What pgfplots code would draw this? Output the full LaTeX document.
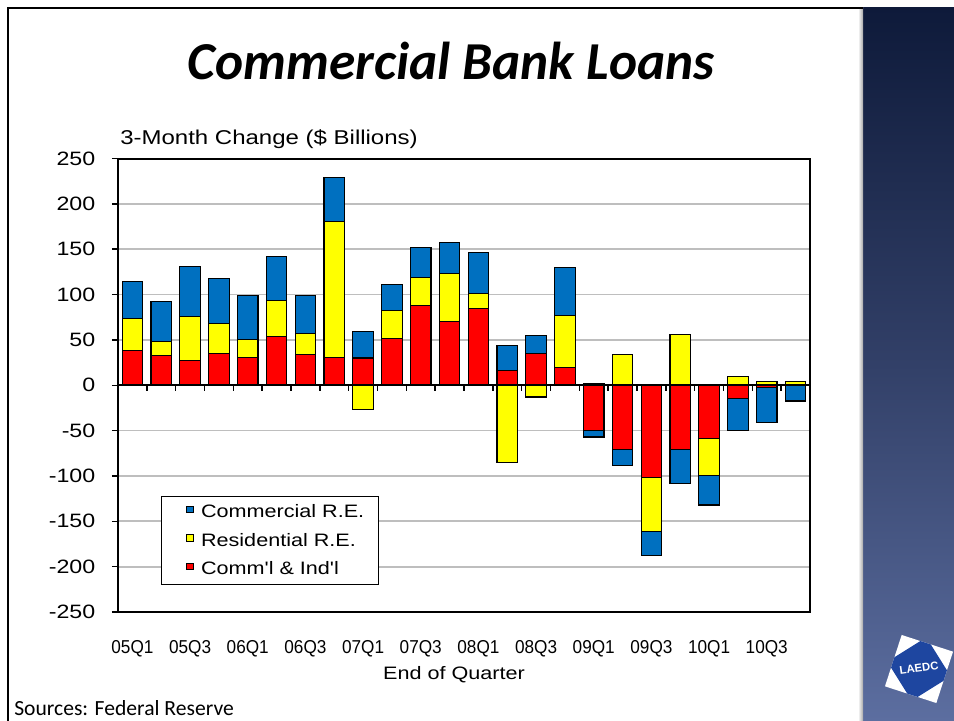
\documentclass[border=0pt]{standalone}
\usepackage{pgfplots}
\pgfplotsset{compat=1.18}
\usepackage{pgfplotstable}
\usepackage{fontspec}
\setmainfont{Liberation Sans}
\newfontfamily\chartfont[FakeStretch=1.2]{Liberation Sans}
\newfontfamily\xfont[FakeStretch=0.92]{Liberation Sans}
\newfontfamily\calfont{Carlito}
\definecolor{cre}{RGB}{0,112,192}
\definecolor{rre}{RGB}{255,255,0}
\definecolor{cni}{RGB}{255,0,0}
\definecolor{gridgray}{RGB}{190,190,190}
\definecolor{bandtop}{RGB}{14,26,58}
\definecolor{bandmid}{RGB}{50,64,104}
\definecolor{bandbot}{RGB}{92,110,160}
\definecolor{logoblue}{RGB}{30,70,160}

% positive parts (Comm'l & Ind'l, Residential R.E., Commercial R.E.)
\pgfplotstableread{
x red yel blu
0 38 36 40
1 33 15 44
2 27 49 55
3 35 33 50
4 31 19 49
5 54 39 49
6 34 23 42
7 31 150 48
8 30 0 29
9 52 30 29
10 88 31 33
11 70 53 34
12 85 16 45
13 16.5 0 27.5
14 35 0 20
15 20 57 53
16 0 2 0
17 0 34 0
18 0 0 0
19 0 56 0
20 0 0 0
21 0 10 0
22 0 4.4 0
23 0 4.4 0
}\postab
% negative parts
\pgfplotstableread{
x red yel blu
0 0 0 0
1 0 0 0
2 0 0 0
3 0 0 0
4 0 0 0
5 0 0 0
6 0 0 0
7 0 0 0
8 0 -27 0
9 0 0 0
10 0 0 0
11 0 0 0
12 0 0 0
13 0 -85 0
14 0 -13 0
15 0 0 0
16 -50 0 -7
17 -71 0 -17
18 -101.5 -59.5 -27
19 -71 0 -37
20 -58.5 -41 -32.5
21 -15 0 -34.7
22 -2.2 0 -38.8
23 0 0 -17.3
}\negtab

\pgfplotsset{
  common/.style={
    at={(88.5pt,81.75pt)}, anchor=south west,
    scale only axis, width=519pt, height=340.1pt,
    xmin=-0.5, xmax=23.5, ymin=-250, ymax=250,
    ybar stacked, bar width=0.715,
  },
  barstyle/.style={draw=black, line width=0.85pt},
}

\begin{document}
\begin{tikzpicture}[x=0.75pt,y=0.75pt]
\fill[white] (0,0) rectangle (954,721);
\path[use as bounding box] (0,0) rectangle (954,721);
% right band
\shade[top color=bandtop, bottom color=bandbot, middle color=bandmid] (863,0) rectangle (954,713);
\shade[left color=white, right color=black!35] (858,0) rectangle (863,713);
% frame
\draw[line width=1.5pt] (8,0) -- (8,713) -- (863,713);
% logo
\begin{scope}[shift={(919,52)}, rotate=-18]
  \fill[white] (-27,-27) rectangle (27,27);
  \begin{scope}
    \clip (-27,-27) rectangle (27,27);
    \fill[logoblue, rotate=50] (-23,-23) rectangle (23,23);
  \end{scope}
\end{scope}
\node[white, font=\bfseries\fontsize{8.5}{9}\selectfont, rotate=8, inner sep=0] at (919,53) {LAEDC};
% title
\node[anchor=base, font=\calfont\bfseries\itshape\fontsize{40}{48}\selectfont] at (451,641) {Commercial Bank Loans};
% y title
\node[anchor=base west, font=\chartfont\fontsize{15}{18}\selectfont, inner sep=0] at (120,576) {3-Month Change (\$ Billions)};
% x title
\node[anchor=base, font=\chartfont\fontsize{13.5}{16}\selectfont, inner sep=0] at (454,41) {End of Quarter};
% sources
\node[anchor=base west, font=\calfont\fontsize{16.2}{19}\selectfont, inner sep=0] at (14,5) {Sources: Federal Reserve};

\begin{axis}[common,
  axis line style={line width=1.5pt},
  xtick={0,2,...,22},
  xticklabels={05Q1,05Q3,06Q1,06Q3,07Q1,07Q3,08Q1,08Q3,09Q1,09Q3,10Q1,10Q3},
  x tick label style={font=\xfont\fontsize{14}{16}\selectfont, yshift=-13pt},
  xtick style={draw=none},
  ytick={-250,-200,...,250},
  yticklabels={-250,-200,-150,-100,-50,0,50,100,150,200,250},
  y tick label style={font=\chartfont\fontsize{14.5}{16}\selectfont, xshift=-9pt},
  ytick pos=left, tick align=outside, major tick length=4.5pt,
  ytick style={line width=1.1pt, black},
  ymajorgrids, grid style={gridgray, line width=1.3pt},
  reverse legend,
  legend style={at={(0.0621,0.2558)}, anchor=north west, draw=black, line width=1pt,
    fill=white, font=\chartfont\fontsize{13.5}{15}\selectfont,
    inner xsep=8.75pt, inner ysep=4pt, row sep=6pt,
    /tikz/every odd column/.append style={column sep=3.5pt}},
  legend cell align=left,
  legend image code/.code={\path[draw=none, fill=none] (0pt,0pt) -- (10pt,0pt);
    \draw[#1, line width=0.6pt] (10pt,-0.5pt) rectangle (15pt,4.5pt);},
]
\addplot[barstyle, fill=cni] table[x=x, y=red] {\postab};
\addlegendentry{Comm'l \& Ind'l}
\addplot[barstyle, fill=rre] table[x=x, y=yel] {\postab};
\addlegendentry{Residential R.E.}
\addplot[barstyle, fill=cre] table[x=x, y=blu] {\postab};
\addlegendentry{Commercial R.E.}
\end{axis}

\begin{axis}[common, hide axis]
\addplot[barstyle, fill=cni] table[x=x, y=red] {\negtab};
\addplot[barstyle, fill=rre] table[x=x, y=yel] {\negtab};
\addplot[barstyle, fill=cre] table[x=x, y=blu] {\negtab};
\draw[line width=1.5pt] (axis cs:-0.5,0) -- (axis cs:23.5,0);
\pgfplotsinvokeforeach{0.5,1.5,...,22.5}{
  \draw[line width=1.1pt] (axis cs:#1,0) -- ++(0pt,-4pt);
}
\end{axis}
\end{tikzpicture}
\end{document}
